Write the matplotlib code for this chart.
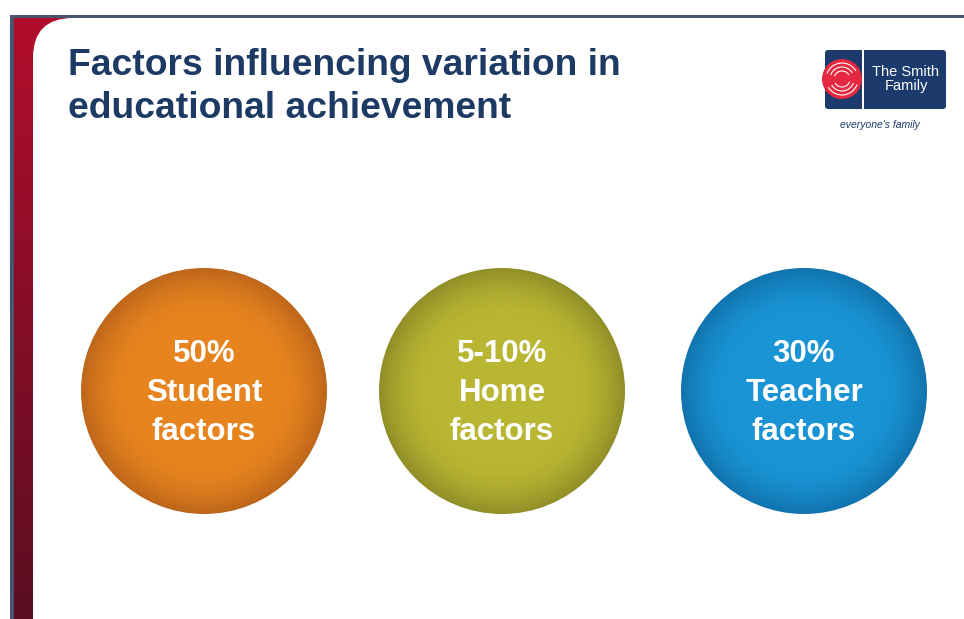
import numpy as np
import matplotlib.pyplot as plt
from matplotlib.patches import Circle, FancyBboxPatch, Rectangle, Arc
from matplotlib.colors import to_rgb

# slide content
title = "Factors influencing variation in\neducational achievement"
percentages = ["50%", "5-10%", "30%"]
factor_names = ["Student", "Home", "Teacher"]
centre_colors = ["#e7841f", "#b9b633", "#1a94d4"]
edge_colors = ["#bd661b", "#908e28", "#1173ae"]

W, H = 964, 619
fig = plt.figure(figsize=(W / 100, H / 100), dpi=100)
ax = fig.add_axes([0, 0, 1, 1])
ax.set_xlim(0, W)
ax.set_ylim(H, 0)
ax.axis('off')

# red side band, fading to maroon at the bottom
top_c = np.array(to_rgb("#b20e2c"))
bot_c = np.array(to_rgb("#5a0d22"))
t = np.linspace(0, 1, 300)[:, None, None]
band = top_c * (1 - t) + bot_c * t
band = np.repeat(band, 2, axis=1)
ax.imshow(band, extent=(14, 90, H, 18), origin='upper', aspect='auto', zorder=1)

# white panel with rounded top-left corner
panel = FancyBboxPatch((33, 18), 1200, 900, boxstyle="round,pad=0,rounding_size=40",
                       fc="white", ec="none", zorder=2)
ax.add_patch(panel)

# grey frame lines
ax.add_patch(Rectangle((10, 15), W, 3, fc="#46566e", ec="none", zorder=3))
ax.add_patch(Rectangle((10, 15), 4, H, fc="#46566e", ec="none", zorder=3))

# title
ax.text(68, 48, title, fontsize=26.8, fontweight='bold', color="#1d3a64",
        family="Liberation Sans", va='top', ha='left', linespacing=1.3, zorder=4)

# logo
navy = "#1c3b6c"
ax.add_patch(FancyBboxPatch((825, 50), 121, 59, boxstyle="round,pad=0,rounding_size=3",
                            fc=navy, ec="none", zorder=4))
ax.add_patch(Rectangle((862, 50), 2, 59, fc="white", ec="none", zorder=5))
ax.add_patch(Circle((842, 79), 20, fc="#e5283f", ec="none", zorder=5))
for k, (a1, a2) in enumerate([(200, 330), (20, 150)]):
    for r in (8, 12, 16):
        ax.add_patch(Arc((842, 79), 2 * r, 2 * r, theta1=a1, theta2=a2,
                         color="white", lw=0.8, zorder=6))
ax.text(906, 79, "The Smith\nFamily", fontsize=10.5, color="white", ha='center',
        va='center', family="Liberation Sans", linespacing=1.0, zorder=6)
ax.text(880, 125, "everyone's family", fontsize=7.5, style='italic', color=navy,
        ha='center', va='center', family="Liberation Sans", zorder=6)

# shaded circles
centres_x = [204, 502, 804]
cy, R = 391, 123
n = 400
yy, xx = np.mgrid[-1:1:n * 1j, -1:1:n * 1j]
rr = np.sqrt(xx ** 2 + yy ** 2)
w = np.clip((rr - 0.6) / 0.4, 0, 1) ** 1.8

for cx, pc, fname, c0, c1 in zip(centres_x, percentages, factor_names,
                                 centre_colors, edge_colors):
    c0 = np.array(to_rgb(c0))
    c1 = np.array(to_rgb(c1))
    img = c0 * (1 - w[..., None]) + c1 * w[..., None]
    im = ax.imshow(img, extent=(cx - R, cx + R, cy + R, cy - R), origin='upper',
                   zorder=4, interpolation='bilinear')
    clip = Circle((cx, cy), R, transform=ax.transData)
    im.set_clip_path(clip)
    for dy, s in zip([-37, 2, 41], [pc, fname, "factors"]):
        ax.text(cx, cy + dy, s, fontsize=22.5, fontweight='bold', color="white",
                ha='center', va='center', family="Liberation Sans", zorder=5)

fig.savefig("out.png", dpi=100, facecolor="white")
